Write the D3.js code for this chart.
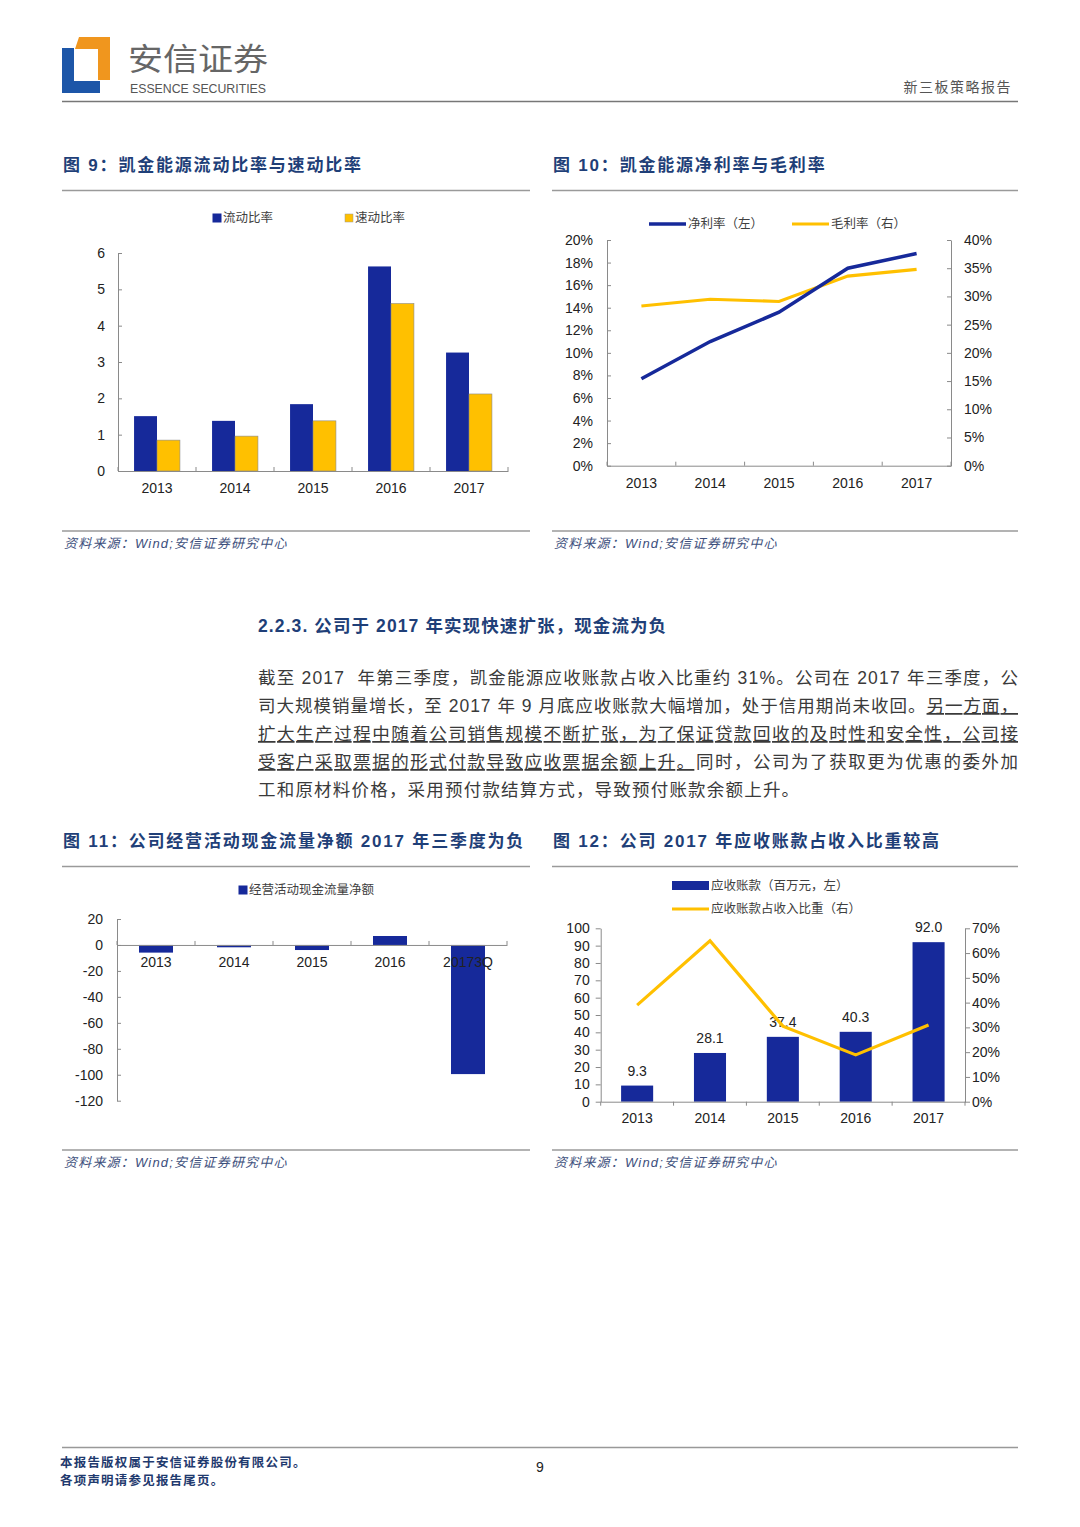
<!DOCTYPE html>
<html><head><meta charset="utf-8">
<script src="https://cdn.jsdelivr.net/npm/d3@7"></script>
<style>body{margin:0;background:#fff}svg{display:block}</style>
</head><body>
<svg id="page" width="1080" height="1527"></svg>
<script>
// ---------- data ----------
const years = ["2013","2014","2015","2016","2017"];
const currentRatio = [1.51,1.38,1.84,5.63,3.26];
const quickRatio   = [0.85,0.96,1.38,4.61,2.12];
const ratioTicks   = [0,1,2,3,4,5,6];

const netMargin   = [7.7,11.0,13.6,17.5,18.8];     // % left axis
const grossMargin = [28.3,29.5,29.1,33.6,34.8];    // % right axis
const marginTicksL = [0,2,4,6,8,10,12,14,16,18,20];
const marginTicksR = [0,5,10,15,20,25,30,35,40];

const cfYears    = ["2013","2014","2015","2016","20173Q"];
const opCashFlow = [-5.9,-1.8,-3.9,6.9,-99.5];
const cfTicks    = [-120,-100,-80,-60,-40,-20,0,20];

const receivables = [9.3,28.1,37.4,40.3,92.0];
const arShare     = [39.0,65.0,30.5,18.9,31.0];   // %
const arTicksL    = [0,10,20,30,40,50,60,70,80,90,100];
const arTicksR    = [0,10,20,30,40,50,60,70];

const paraLines = [
  [["截至 2017  年第三季度，凯金能源应收账款占收入比重约 31%。公司在 2017 年三季度，公",false]],
  [["司大规模销量增长，至 2017 年 9 月底应收账款大幅增加，处于信用期尚未收回。",false],["另一方面，",true]],
  [["扩大生产过程中随着公司销售规模不断扩张，为了保证贷款回收的及时性和安全性，公司接",true]],
  [["受客户采取票据的形式付款导致应收票据余额上升。",true],["同时，公司为了获取更为优惠的委外加",false]],
  [["工和原材料价格，采用预付款结算方式，导致预付账款余额上升。",false]]
];

// ---------- style constants ----------
const NAVY = "#16299a", GOLD = "#ffc000", AXIS = "#8a8a8a";
const TITLE_C = "#1f3f78";
const LAT = "'Liberation Sans', Arial, 'Noto Sans CJK SC', sans-serif";
const CJK = "'Liberation Sans', 'Noto Sans CJK SC', sans-serif";

const svg = d3.select("#page");
svg.append("rect").attr("width",1080).attr("height",1527).attr("fill","#fff");

// ---------- header ----------
const hdr = svg.append("g");
hdr.append("path").attr("d","M62,48 L74,48 L74,81 L100,81 L100,93 L62,93 Z").attr("fill","#1d56a8");
hdr.append("path").attr("d","M79,37 L110,37 L110,80 L98,80 L98,49 L75,49 Z").attr("fill","#f0961e");
hdr.append("text").attr("x",128).attr("y",70).attr("font-family","'Noto Sans CJK SC', sans-serif")
  .attr("font-size",31).attr("fill","#666").attr("textLength",140).attr("lengthAdjust","spacingAndGlyphs").text("安信证券");
hdr.append("text").attr("x",130).attr("y",93).attr("font-family","'Liberation Sans Narrow','Liberation Sans',Arial")
  .attr("font-size",13).attr("fill","#555").attr("textLength",136).attr("lengthAdjust","spacingAndGlyphs").text("ESSENCE SECURITIES");
hdr.append("text").attr("x",1012).attr("y",92).attr("text-anchor","end").attr("font-family","'Noto Sans CJK SC'")
  .attr("font-size",14).attr("fill","#555").attr("letter-spacing",1.5).text("新三板策略报告");
hdr.append("line").attr("x1",62).attr("x2",1018).attr("y1",101.5).attr("y2",101.5).attr("stroke","#777").attr("stroke-width",1.5);

// ---------- figure frames ----------
function frame(x0,x1,titleY,ruleY,srcY,title){
  svg.append("text").attr("x",x0+1).attr("y",titleY).attr("font-family",CJK).attr("font-weight","bold")
     .attr("font-size",17).attr("letter-spacing",1.8).attr("fill",TITLE_C).text(title);
  svg.append("line").attr("x1",x0).attr("x2",x1).attr("y1",ruleY).attr("y2",ruleY).attr("stroke","#9a9a9a").attr("stroke-width",1.5);
  svg.append("line").attr("x1",x0).attr("x2",x1).attr("y1",srcY).attr("y2",srcY).attr("stroke","#9a9a9a").attr("stroke-width",1.5);
  svg.append("text").attr("x",x0+2).attr("y",srcY+17).attr("font-family",CJK).attr("font-style","italic")
     .attr("font-size",13).attr("letter-spacing",1.2).attr("fill","#3d4f7c").text("资料来源：Wind;安信证券研究中心");
}
frame(62,530,171,190.5,531,"图 9：凯金能源流动比率与速动比率");
frame(552,1018,171,190.5,531,"图 10：凯金能源净利率与毛利率");
frame(62,530,847,866.5,1150,"图 11：公司经营活动现金流量净额 2017 年三季度为负");
frame(552,1018,847,866.5,1150,"图 12：公司 2017 年应收账款占收入比重较高");

function styleAxis(g){
  g.selectAll(".domain").attr("stroke",AXIS);
  g.selectAll(".tick line").attr("stroke",AXIS);
  g.selectAll("text").attr("font-family",LAT).attr("font-size",14).attr("fill","#222");
}
function boundaryTicks(g, xs, y, len){
  const bounds = xs.domain().map(d=>xs(d)).concat([xs.range()[1]]);
  g.selectAll(null).data(bounds).join("line").attr("x1",d=>d).attr("x2",d=>d)
    .attr("y1",y).attr("y2",y+len).attr("stroke",AXIS);
}
function legendText(x,y,t){
  svg.append("text").attr("x",x).attr("y",y).attr("dy","0.35em").attr("font-family","'Noto Sans CJK SC'")
    .attr("font-size",12.5).attr("fill","#404040").text(t);
}
const plain = d => String(d);

// ---------- Chart 9 ----------
{
  const x = d3.scaleBand().domain(years).range([118,508]);
  const xs = d3.scaleBand().domain(["c","q"]).range([0,x.bandwidth()]).paddingOuter(0.7);
  const y = d3.scaleLinear().domain([0,6]).range([471,253]);
  const g = svg.append("g");
  g.selectAll(".c").data(currentRatio).join("rect")
    .attr("x",(d,i)=>x(years[i])+xs("c")).attr("width",xs.bandwidth())
    .attr("y",d=>y(d)).attr("height",d=>y(0)-y(d)).attr("fill",NAVY);
  g.selectAll(".q").data(quickRatio).join("rect")
    .attr("x",(d,i)=>x(years[i])+xs("q")).attr("width",xs.bandwidth())
    .attr("y",d=>y(d)).attr("height",d=>y(0)-y(d)).attr("fill",GOLD).attr("stroke","#8a8a8a").attr("stroke-width",0.6);
  const ya = g.append("g").attr("transform","translate(118,0)")
    .call(d3.axisLeft(y).tickValues(ratioTicks).tickFormat(plain).tickSize(-4).tickSizeOuter(0).tickPadding(13));
  styleAxis(ya);
  const xa = g.append("g").attr("transform","translate(0,471)")
    .call(d3.axisBottom(x).tickSize(0).tickPadding(12));
  styleAxis(xa);
  boundaryTicks(g,x,471,-4);
  svg.append("rect").attr("x",212.5).attr("y",213.5).attr("width",9).attr("height",9).attr("fill",NAVY);
  legendText(223,218,"流动比率");
  svg.append("rect").attr("x",345).attr("y",214).attr("width",8).attr("height",8).attr("fill",GOLD).attr("stroke","#999").attr("stroke-width",0.5);
  legendText(355,218,"速动比率");
}

// ---------- Chart 10 ----------
{
  const x = d3.scaleBand().domain(years).range([607,951]);
  const yl = d3.scaleLinear().domain([0,20]).range([465.7,240]);
  const yr = d3.scaleLinear().domain([0,40]).range([465.7,240]);
  const g = svg.append("g");
  const cx = d => x(d)+x.bandwidth()/2;
  const la = g.append("g").attr("transform","translate(607,0)")
    .call(d3.axisLeft(yl).tickValues(marginTicksL).tickFormat(d=>d+"%").tickSize(-4).tickSizeOuter(0).tickPadding(14));
  styleAxis(la);
  const ra = g.append("g").attr("transform","translate(951,0)")
    .call(d3.axisRight(yr).tickValues(marginTicksR).tickFormat(d=>d+"%").tickSize(-4).tickSizeOuter(0).tickPadding(13));
  styleAxis(ra);
  const xa = g.append("g").attr("transform","translate(0,465.7)")
    .call(d3.axisBottom(x).tickSize(0).tickPadding(12));
  styleAxis(xa);
  boundaryTicks(g,x,465.7,-4);
  g.append("path").datum(grossMargin).attr("fill","none").attr("stroke",GOLD).attr("stroke-width",3.2)
    .attr("d",d3.line().x((d,i)=>cx(years[i])).y(d=>yr(d)));
  g.append("path").datum(netMargin).attr("fill","none").attr("stroke",NAVY).attr("stroke-width",3.5)
    .attr("d",d3.line().x((d,i)=>cx(years[i])).y(d=>yl(d)));
  svg.append("line").attr("x1",649).attr("x2",686).attr("y1",224).attr("y2",224).attr("stroke",NAVY).attr("stroke-width",3.5);
  legendText(688,224,"净利率（左）");
  svg.append("line").attr("x1",792).attr("x2",829).attr("y1",224).attr("y2",224).attr("stroke",GOLD).attr("stroke-width",3.2);
  legendText(831,224,"毛利率（右）");
}

// ---------- Chart 11 ----------
{
  const x = d3.scaleBand().domain(cfYears).range([117,507]);
  const y = d3.scaleLinear().domain([-120,20]).range([1100.7,919]);
  const bw = x.bandwidth()*0.436;
  const g = svg.append("g");
  g.selectAll("rect").data(opCashFlow).join("rect")
    .attr("x",(d,i)=>x(cfYears[i])+(x.bandwidth()-bw)/2).attr("width",bw)
    .attr("y",d=>y(Math.max(0,d))).attr("height",d=>Math.abs(y(d)-y(0))).attr("fill",NAVY);
  const ya = g.append("g").attr("transform","translate(117,0)")
    .call(d3.axisLeft(y).tickValues(cfTicks).tickFormat(plain).tickSize(-4).tickSizeOuter(0).tickPadding(14));
  styleAxis(ya);
  const xa = g.append("g").attr("transform",`translate(0,${y(0)})`)
    .call(d3.axisBottom(x).tickSize(0).tickPadding(12));
  styleAxis(xa);
  boundaryTicks(g,x,y(0),-4);
  svg.append("rect").attr("x",238.5).attr("y",885.5).attr("width",9).attr("height",9).attr("fill",NAVY);
  legendText(249,890,"经营活动现金流量净额");
}

// ---------- Chart 12 ----------
{
  const x = d3.scaleBand().domain(years).range([600.7,965]);
  const yl = d3.scaleLinear().domain([0,100]).range([1101.7,928.3]);
  const yr = d3.scaleLinear().domain([0,70]).range([1101.7,928.3]);
  const bw = x.bandwidth()*0.44;
  const cx = d => x(d)+x.bandwidth()/2;
  const g = svg.append("g");
  g.selectAll("rect.b").data(receivables).join("rect")
    .attr("x",(d,i)=>cx(years[i])-bw/2).attr("width",bw)
    .attr("y",d=>yl(d)).attr("height",d=>yl(0)-yl(d)).attr("fill",NAVY);
  g.selectAll("text.v").data(receivables).join("text")
    .attr("x",(d,i)=>cx(years[i])).attr("y",d=>yl(d)-10).attr("text-anchor","middle")
    .attr("font-family",LAT).attr("font-size",14).attr("fill","#222").text(d=>d.toFixed(1));
  const la = g.append("g").attr("transform","translate(600.7,0)")
    .call(d3.axisLeft(yl).tickValues(arTicksL).tickFormat(plain).tickSize(5).tickSizeOuter(0).tickPadding(6));
  styleAxis(la);
  const ra = g.append("g").attr("transform","translate(965,0)")
    .call(d3.axisRight(yr).tickValues(arTicksR).tickFormat(d=>d+"%").tickSize(5).tickSizeOuter(0).tickPadding(2));
  styleAxis(ra);
  const xa = g.append("g").attr("transform","translate(0,1101.7)")
    .call(d3.axisBottom(x).tickSize(0).tickPadding(11));
  styleAxis(xa);
  boundaryTicks(g,x,1101.7,4);
  g.append("path").datum(arShare).attr("fill","none").attr("stroke",GOLD).attr("stroke-width",3.2)
    .attr("d",d3.line().x((d,i)=>cx(years[i])).y(d=>yr(d)));
  svg.append("rect").attr("x",672).attr("y",881).attr("width",37).attr("height",9).attr("fill",NAVY);
  legendText(711,885.5,"应收账款（百万元，左）");
  svg.append("line").attr("x1",672).attr("x2",709).attr("y1",909).attr("y2",909).attr("stroke",GOLD).attr("stroke-width",3.2);
  legendText(711,909,"应收账款占收入比重（右）");
}

// ---------- section text ----------
svg.append("text").attr("x",258).attr("y",632).attr("font-family",CJK).attr("font-weight","bold")
  .attr("font-size",17.5).attr("letter-spacing",1.1).attr("fill",TITLE_C).text("2.2.3. 公司于 2017 年实现快速扩张，现金流为负");
paraLines.forEach((segs,i)=>{
  const t = svg.append("text").attr("x",258).attr("y",684+i*28).attr("font-family",CJK)
    .attr("font-size",17.5).attr("fill","#3a3a3a").attr("xml:space","preserve");
  if(i<4) t.attr("textLength",760).attr("lengthAdjust","spacing");
  else t.attr("letter-spacing",1.2);
  segs.forEach(([s,u])=>{
    const ts = t.append("tspan").text(s);
    if(u) ts.attr("text-decoration","underline");
  });
});

// ---------- footer ----------
svg.append("line").attr("x1",62).attr("x2",1018).attr("y1",1447.5).attr("y2",1447.5).attr("stroke","#999").attr("stroke-width",1.5);
svg.append("text").attr("x",60).attr("y",1467).attr("font-family","'Noto Sans CJK SC'").attr("font-weight","bold")
  .attr("font-size",12.5).attr("letter-spacing",1.2).attr("fill","#1f3a6e").text("本报告版权属于安信证券股份有限公司。");
svg.append("text").attr("x",60).attr("y",1485).attr("font-family","'Noto Sans CJK SC'").attr("font-weight","bold")
  .attr("font-size",12.5).attr("letter-spacing",1.2).attr("fill","#1f3a6e").text("各项声明请参见报告尾页。");
svg.append("text").attr("x",540).attr("y",1472).attr("text-anchor","middle").attr("font-family",LAT)
  .attr("font-size",14).attr("fill","#222").text("9");
</script>
</body></html>
